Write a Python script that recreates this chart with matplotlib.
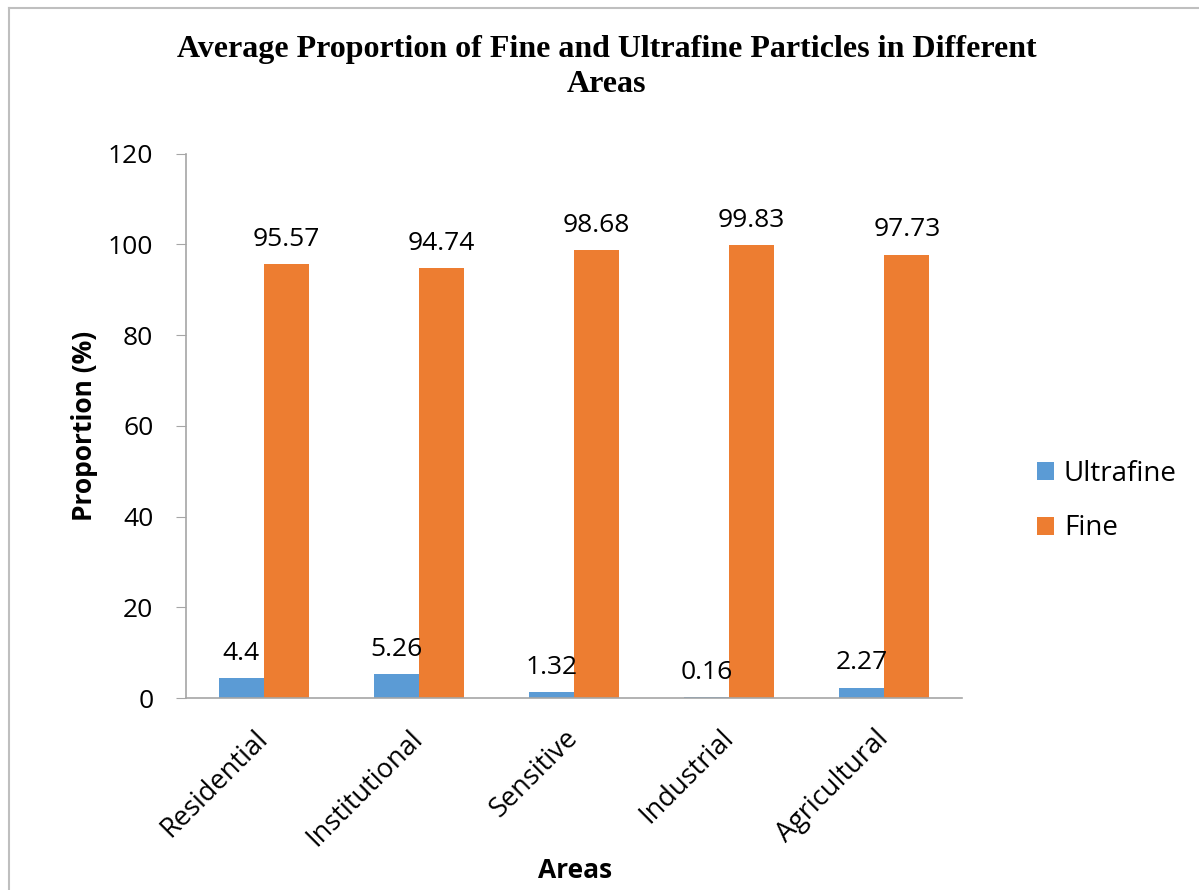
"""
Proporción media de partículas finas y ultrafinas por área.
"""
import matplotlib
matplotlib.use("Agg")
import matplotlib.pyplot as plt
import matplotlib.transforms as mtransforms
from matplotlib.lines import Line2D
import numpy as np

# Datos
areas = ["Residential", "Institutional", "Sensitive", "Industrial", "Agricultural"]
ultrafine = [4.4, 5.26, 1.32, 0.16, 2.27]
fine = [95.57, 94.74, 98.68, 99.83, 97.73]
series_names = ["Ultrafine", "Fine"]
yticks = [0, 20, 40, 60, 80, 100, 120]

colors = ["#5B9BD5", "#ED7D31"]
axis_gray = "#A6A6A6"
sans = "Open Sans"

fig = plt.figure(figsize=(11.99, 8.9), dpi=100)
ax = fig.add_axes([0.1551, 0.2157, 0.6472, 0.6118])

x = np.arange(len(areas))
w = 0.29
bars_u = ax.bar(x - w / 2, ultrafine, w, color=colors[0], label=series_names[0])
bars_f = ax.bar(x + w / 2, fine, w, color=colors[1], label=series_names[1])

# Etiquetas de valores sobre las barras
for bars, vals in [(bars_u, ultrafine), (bars_f, fine)]:
    for b, v in zip(bars, vals):
        ax.annotate(f"{v:g}", (b.get_x() + b.get_width() / 2, b.get_height()),
                    xytext=(0, 9), textcoords="offset points",
                    ha="center", va="bottom", fontsize=19, family=sans)

ax.set_xlim(-0.5, len(areas) - 0.5)
ax.set_ylim(0, 120)
ax.set_yticks(yticks)
ax.set_yticklabels([str(t) for t in yticks], fontsize=19, family=sans)
ax.set_xticks(x)
ax.set_xticklabels(areas, rotation=45, ha="right", rotation_mode="anchor",
                   fontsize=19.5, family=sans)
ax.tick_params(axis="x", length=0, pad=19)
ax.tick_params(axis="y", length=7.5, color=axis_gray, pad=16)

# Desplazar un poco las etiquetas rotadas hacia la izquierda
shift = mtransforms.ScaledTranslation(-7 / 72, 0, fig.dpi_scale_trans)
for lbl in ax.get_xticklabels():
    lbl.set_transform(lbl.get_transform() + shift)

for s in ["top", "right"]:
    ax.spines[s].set_visible(False)
for s in ["left", "bottom"]:
    ax.spines[s].set_color(axis_gray)
    ax.spines[s].set_linewidth(1.2)

ax.set_ylabel("Proportion (%)", fontsize=19, fontweight="bold", family=sans)
ax.yaxis.set_label_coords(-0.113, 0.5)
fig.text(0.48, 0.022, "Areas", ha="center", va="center",
         fontsize=19, fontweight="bold", family=sans)

fig.text(0.506, 0.925, "Average Proportion of Fine and Ultrafine Particles in Different\nAreas",
         ha="center", va="center", fontsize=23, fontweight="bold",
         family="Liberation Serif", linespacing=1.25)

fig.legend(handles=[bars_u, bars_f], labels=series_names, loc="center left",
           bbox_to_anchor=(0.844, 0.437), frameon=False,
           prop={"family": sans, "size": 20},
           handlelength=0.61, handleheight=0.61, handletextpad=0.36, labelspacing=0.96)

# Marco exterior (solo arriba e izquierda visibles)
fig.add_artist(Line2D([0.0075, 1.0], [0.9915, 0.9915], transform=fig.transFigure,
                      color="#BFBFBF", lw=1.5))
fig.add_artist(Line2D([0.0075, 0.0075], [0.0, 0.9915], transform=fig.transFigure,
                      color="#BFBFBF", lw=1.5))

fig.savefig("out.png", dpi=100)
